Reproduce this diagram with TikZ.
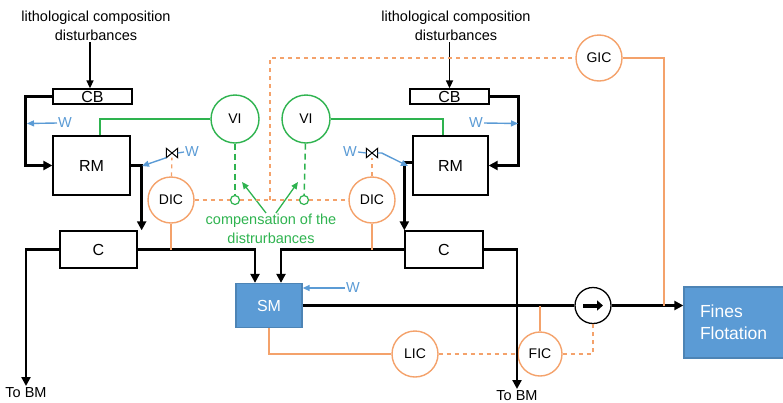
\documentclass[tikz,border=0pt]{standalone}
\usepackage{fontspec}
\setmainfont{Liberation Sans}
\usetikzlibrary{arrows.meta}
\definecolor{org}{HTML}{F4A26B}
\definecolor{grn}{HTML}{2EB34F}
\definecolor{blu}{HTML}{5B9BD5}
\begin{document}
\begin{tikzpicture}[x=1pt,y=-1pt,
  proc/.style={draw=black, line width=1.3pt, inner sep=0pt, font=\fontsize{16}{18}\selectfont},
  bluebox/.style={proc, fill=blu, draw=blu!85!black, text=white},
  inst/.style={circle, draw=org, line width=1.4pt, fill=white, minimum size=46pt, inner sep=0pt, font=\fontsize{14}{16}\selectfont},
  vinst/.style={inst, draw=grn, minimum size=48pt},
  tap/.style={circle, draw=grn, line width=1.2pt, fill=white, minimum size=9pt, inner sep=0pt},
  valvenode/.style={inner sep=0pt, minimum width=11pt, minimum height=9pt},
  flow/.style={line width=2.4pt, -{Triangle[length=9pt,width=9pt]}},
  thinflow/.style={line width=1.6pt, -{Triangle[length=8pt,width=7pt]}},
  plainflow/.style={line width=2.4pt},
  wat/.style={blu, line width=1.4pt, -{Triangle[length=7pt,width=6pt]}},
  watline/.style={blu, line width=1.3pt},
  sig/.style={org, line width=1.4pt},
  dsig/.style={org, line width=1.3pt, dash pattern=on 4pt off 4pt},
  gsig/.style={grn, line width=1.4pt},
  gdsig/.style={grn, line width=1.5pt, dash pattern=on 6pt off 4pt},
  garrow/.style={grn, line width=1.3pt, -{Triangle[length=7pt,width=6pt]}},
  lbl/.style={font=\fontsize{14.5}{19}\selectfont, align=center, inner sep=1pt},
  wlbl/.style={text=blu, font=\fontsize{14.5}{17}\selectfont, inner sep=1pt}
]
\useasboundingbox (0,0) rectangle (783,402);

% process boxes
\node[proc, minimum width=79pt, minimum height=15pt] (CBL) at (92.5,96.5) {CB};
\node[proc, minimum width=77pt, minimum height=59pt] (RML) at (91.5,165.5) {RM};
\node[proc, minimum width=77pt, minimum height=37pt] (CL) at (98.5,249.5) {C};
\node[proc, minimum width=79pt, minimum height=15pt] (CBR) at (449.5,96.5) {CB};
\node[proc, minimum width=75pt, minimum height=59pt] (RMR) at (450.5,165.5) {RM};
\node[proc, minimum width=78pt, minimum height=37pt] (CR) at (444,249.5) {C};
\node[bluebox, minimum width=66pt, minimum height=44pt] (SM) at (269,305.5) {SM};
\node[bluebox, minimum height=71pt, inner xsep=16pt, text width=68pt, align=left,
      font=\fontsize{17.5}{22}\selectfont] (FF) at (734,322.5) {Fines\\Flotation};

% instruments
\node[vinst] (VIL) at (235,119) {VI};
\node[vinst] (VIR) at (306,119) {VI};
\node[inst] (DICL) at (171,200) {DIC};
\node[inst] (DICR) at (372,200) {DIC};
\node[inst] (GIC) at (599,58) {GIC};
\node[inst] (LIC) at (415,354) {LIC};
\node[inst, minimum size=44pt] (FIC) at (540,354) {FIC};
\node[circle, draw=black, line width=1.3pt, minimum size=36pt, inner sep=0pt] (pump) at (593,305.5) {};
\node[tap] (tapL) at (235,200) {};
\node[tap] (tapR) at (304,200) {};
\node[valvenode] (valveL) at (172,153) {};
\node[valvenode] (valveR) at (372,153) {};

% texts
\node[lbl] (litL) at (96,26) {lithological composition\\disturbances};
\node[lbl] (litR) at (456,26) {lithological composition\\disturbances};
\node[lbl, text=grn] (comp) at (271,229) {compensation of the\\distrurbances};
\node[lbl, anchor=north] (bmL) at (26,386) {To BM};
\node[lbl, anchor=north] (bmR) at (517,389) {To BM};
\node[wlbl, anchor=west] (wL1) at (57,123) {W};
\node[wlbl, anchor=west] (wL2) at (184,152) {W};
\node[wlbl, anchor=east] (wR1) at (484,123) {W};
\node[wlbl, anchor=east] (wR2) at (358,152) {W};
\node[wlbl, anchor=west] (wSM) at (345,288) {W};

% coordinates for free ends
\coordinate (wL1end) at (27,123.5);
\coordinate (wR1end) at (518,123.5);
\coordinate (wvLend) at (142,166);
\coordinate (wvRend) at (408,166);
\coordinate (midc) at (270,200);
\coordinate (ga1) at (242,182);
\coordinate (ga2) at (298,182);
\coordinate (gicj) at (664,305.5);

% valves
\draw[line width=1pt] (valveL.north west) -- (valveL.south east) -- (valveL.north east) -- (valveL.south west) -- cycle;
\draw[line width=1pt] (valveR.north west) -- (valveR.south east) -- (valveR.north east) -- (valveR.south west) -- cycle;

% material flows
\draw[thinflow] ([xshift=-2.5pt]CBL.north |- litL.south) -- ([xshift=-2.5pt]CBL.north);
\draw[thinflow] (CBR.north |- litR.south) -- (CBR.north);
\draw[flow] (CBL.west) -- ++(-27,0) |- (RML.west);
\draw[flow] (CBR.east) -- ++(29,0) |- (RMR.east);
\draw[flow] (RML.east) -| ([xshift=4pt]CL.north east);
\draw[flow] ([yshift=3pt]RMR.west) -| (CR.north west);
\draw[flow] (CL.east) -| ([xshift=-14pt]SM.north);
\draw[flow] (CR.west) -| ([xshift=12pt]SM.north);
\draw[flow] (CL.west) -| (bmL.north);
\draw[flow] (CR.east) -| (bmR.north);
\draw[plainflow] (SM.east) -- (pump.west);
\draw[flow] (pump.east) -- (pump.east -| FF.west);
\draw[line width=4pt, -{Triangle[length=6pt,width=10pt]}] ([xshift=-10pt]pump.center) -- ([xshift=10pt]pump.center);

% water
\draw[wat] (wL1.west) -- (wL1end);
\draw[wat] (wR1.east) -- (wR1end);
\draw[watline] (valveL.east) -- (wL2.west);
\draw[watline] (wR2.east) -- (valveR.west);
\draw[wat] (valveL.south west) -- (wvLend);
\draw[wat] (valveR.east) -- ++(4,0) -- (wvRend);
\draw[wat] (wSM.west) -- (wSM.west -| SM.east);

% green signals
\draw[gsig] (VIL.west) -| ([xshift=8.5pt]RML.north);
\draw[gsig] (VIR.east) -| ([xshift=-7.5pt]RMR.north);
\draw[gdsig] (VIL) -- (tapL);
\draw[gdsig] (VIR) -- (tapR);
\draw[garrow] ([xshift=-5pt]comp.north) -- (ga1);
\draw[garrow] ([xshift=5pt]comp.north) -- (ga2);

% orange signals
\draw[dsig] (DICL) -- (tapL);
\draw[dsig] (tapL) -- (tapR);
\draw[dsig] (tapR) -- (DICR);
\draw[dsig] (midc) |- (GIC);
\draw[dsig] (DICL) -- (valveL);
\draw[dsig] (DICR) -- (valveR);
\draw[sig] (DICL) -- (DICL |- CL.east);
\draw[sig] (DICR) -- (DICR |- CR.west);
\draw[sig] (GIC.east) -| (gicj);
\draw[sig] (SM.south) |- (LIC.west);
\draw[dsig] (LIC) -- (FIC);
\draw[sig] (FIC) -- (FIC |- pump.west);
\draw[dsig] (FIC.east) -| (pump.south);
\end{tikzpicture}
\end{document}
